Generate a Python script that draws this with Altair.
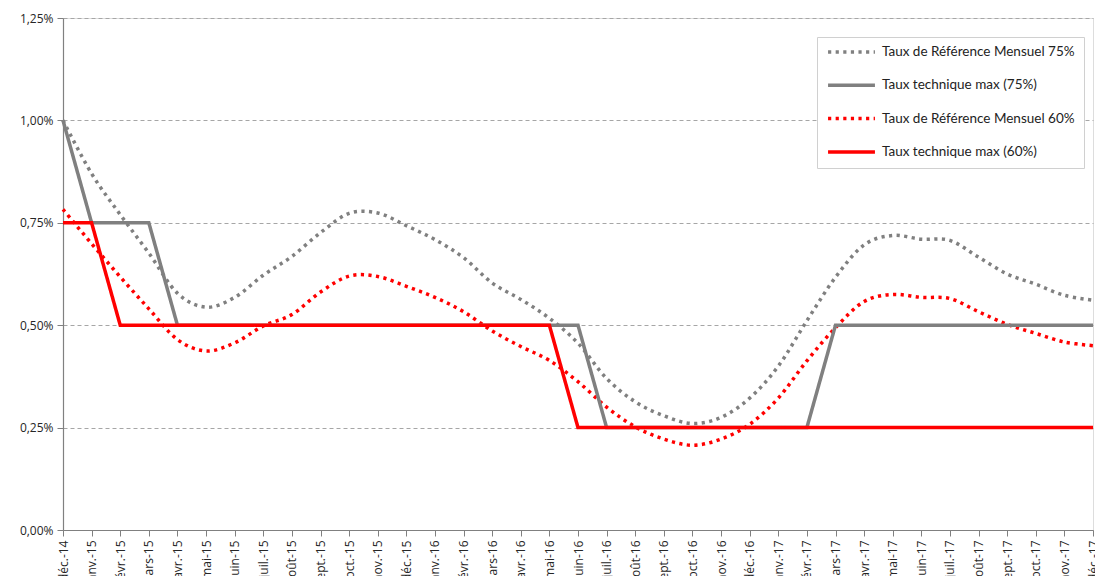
import altair as alt
import pandas as pd

months = ["déc.-14", "janv.-15", "févr.-15", "mars-15", "avr.-15", "mai-15", "juin-15",
          "juil.-15", "août-15", "sept.-15", "oct.-15", "nov.-15", "déc.-15",
          "janv.-16", "févr.-16", "mars-16", "avr.-16", "mai-16", "juin-16",
          "juil.-16", "août-16", "sept.-16", "oct.-16", "nov.-16", "déc.-16",
          "janv.-17", "févr.-17", "mars-17", "avr.-17", "mai-17", "juin-17",
          "juil.-17", "août-17", "sept.-17", "oct.-17", "nov.-17", "déc.-17"]

series_names = ["Taux de Référence Mensuel 75%", "Taux technique max (75%)",
                "Taux de Référence Mensuel 60%", "Taux technique max (60%)"]

trm75 = [1.00, 0.87, 0.77, 0.676, 0.578, 0.544, 0.568, 0.622, 0.668, 0.726, 0.773, 0.774,
         0.743, 0.709, 0.665, 0.603, 0.563, 0.517, 0.456, 0.37, 0.313, 0.279, 0.26, 0.275,
         0.322, 0.40, 0.511, 0.617, 0.696, 0.719, 0.71, 0.707, 0.666, 0.625, 0.60, 0.573, 0.561]
tt75 = [1.00, 0.75, 0.75, 0.75, 0.50, 0.50, 0.50, 0.50, 0.50, 0.50, 0.50, 0.50,
        0.50, 0.50, 0.50, 0.50, 0.50, 0.50, 0.50, 0.25, 0.25, 0.25, 0.25, 0.25,
        0.25, 0.25, 0.25, 0.50, 0.50, 0.50, 0.50, 0.50, 0.50, 0.50, 0.50, 0.50, 0.50]
trm60 = [0.783, 0.699, 0.618, 0.54, 0.465, 0.437, 0.457, 0.498, 0.526, 0.581, 0.62, 0.619,
         0.595, 0.568, 0.533, 0.486, 0.448, 0.414, 0.362, 0.30, 0.252, 0.222, 0.207, 0.222,
         0.258, 0.322, 0.413, 0.494, 0.558, 0.575, 0.568, 0.565, 0.533, 0.502, 0.48, 0.459, 0.45]
tt60 = [0.75, 0.75, 0.50, 0.50, 0.50, 0.50, 0.50, 0.50, 0.50, 0.50, 0.50, 0.50,
        0.50, 0.50, 0.50, 0.50, 0.50, 0.50, 0.25, 0.25, 0.25, 0.25, 0.25, 0.25,
        0.25, 0.25, 0.25, 0.25, 0.25, 0.25, 0.25, 0.25, 0.25, 0.25, 0.25, 0.25, 0.25]

y_ticks = [0, 0.25, 0.5, 0.75, 1.0, 1.25]
colors = ["#808080", "#808080", "#FF0000", "#FF0000"]
dot = [3.2, 4.4]
solid = [1, 0]
dashes = [dot, solid, dot, solid]

rows = []
for name, vals, kind in zip(series_names, [trm75, tt75, trm60, tt60],
                            ["dot", "solid", "dot", "solid"]):
    for m, v in zip(months, vals):
        rows.append({"month": m, "value": v, "series": name, "kind": kind})
df = pd.DataFrame(rows)

legend = alt.Legend(
    title=None, orient="none", legendX=754, legendY=19,
    fillColor="white", strokeColor="#D0D0D0", padding=9,
    symbolType="stroke", symbolSize=2200, symbolStrokeWidth=3.5,
    clipHeight=12, rowPadding=19.3, labelFont="Lato", labelFontSize=13.5,
    labelColor="#222222", labelOffset=5, labelLimit=300,
)

x_enc = alt.X("month:N", sort=months, scale=alt.Scale(type="point", padding=0),
              axis=alt.Axis(title=None, labelAngle=-90, labelFont="Open Sans",
                            labelFontSize=12, labelColor="#262626", tickColor="#808080",
                            domainColor="#808080", tickSize=6, labelPadding=4,
                            grid=False, domainWidth=1.2))
y_enc = alt.Y("value:Q", scale=alt.Scale(domain=[0, 1.25], nice=False, zero=True),
              axis=alt.Axis(title=None, values=y_ticks,
                            labelExpr="replace(format(datum.value, '.2f'), '.', ',') + '%'",
                            labelFont="Open Sans", labelFontSize=12, labelColor="#262626",
                            tickColor="#808080", tickSize=6, domainColor="#808080",
                            domainWidth=1.2, labelPadding=4,
                            grid=True, gridColor="#A6A6A6", gridDash=[4, 3], gridWidth=1))
color_enc = alt.Color("series:N", scale=alt.Scale(domain=series_names, range=colors), legend=legend)
dash_enc = alt.StrokeDash("series:N", scale=alt.Scale(domain=series_names, range=dashes), legend=legend)

base = alt.Chart(df).encode(x=x_enc, y=y_enc, color=color_enc, strokeDash=dash_enc)

dotted = base.transform_filter(alt.datum.kind == "dot").mark_line(
    interpolate="cardinal", strokeWidth=3.5)
solid_l = base.transform_filter(alt.datum.kind == "solid").mark_line(
    interpolate="linear", strokeWidth=3.5)

chart = alt.layer(dotted, solid_l).properties(
    width=1030, height=512, autosize="none",
    padding={"left": 55, "top": 10, "right": 2, "bottom": 46},
).configure_view(stroke=None).configure(background="white")

chart.save("out.html", embed_options={"renderer": "svg", "actions": False})
